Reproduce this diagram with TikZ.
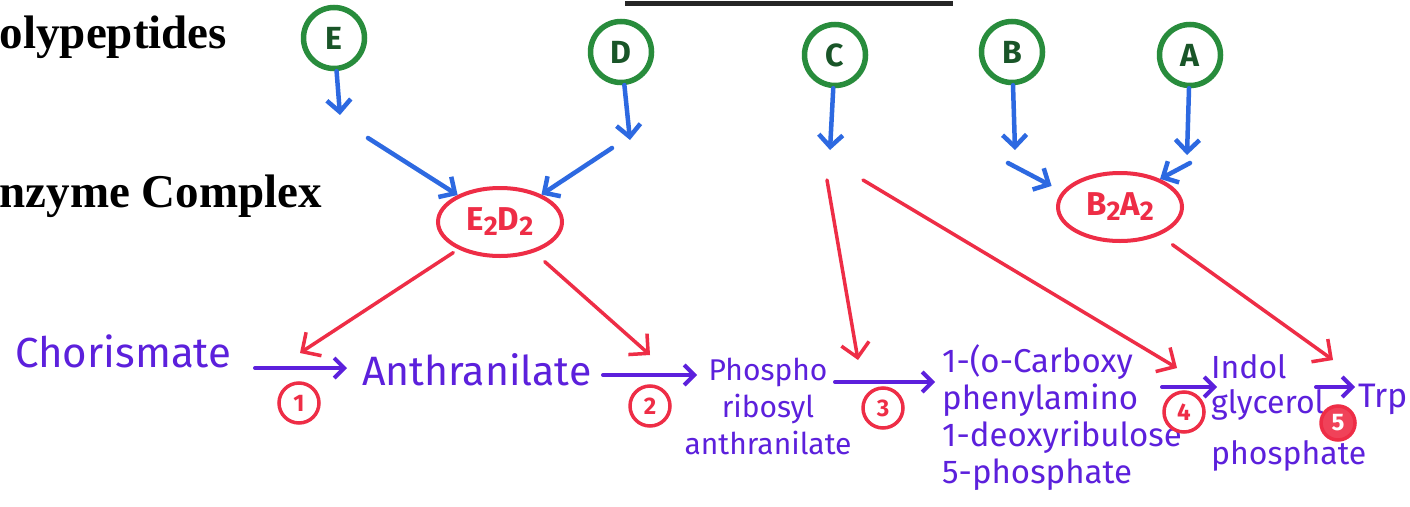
\documentclass[tikz,border=0pt]{standalone}
\usepackage{fontspec}
\setmainfont{Liberation Serif}
\newfontfamily\handfont{Fira Sans}
\usetikzlibrary{arrows.meta,shapes.geometric}
\definecolor{pengreen}{RGB}{40,140,60}
\definecolor{inkgreen}{RGB}{25,85,40}
\definecolor{penblue}{RGB}{45,105,225}
\definecolor{penred}{RGB}{238,45,70}
\definecolor{penpurple}{RGB}{92,32,220}
\newcommand{\lowtwo}{\raisebox{-5pt}{\fontsize{27}{27}\selectfont 2}}

\begin{document}
\begin{tikzpicture}[x=1pt,y=-1pt,
  heading/.style={anchor=base west,inner sep=0pt,font=\bfseries\fontsize{47}{56}\selectfont},
  subunit/.style={circle,draw=pengreen,line width=5.5pt,minimum size=61pt,inner sep=0pt,
    text=inkgreen,font=\handfont\bfseries\fontsize{32}{32}\selectfont},
  complexnode/.style={ellipse,draw=penred,line width=4pt,minimum width=124pt,minimum height=68pt,
    inner sep=0pt,text=penred,font=\handfont\bfseries\fontsize{33}{33}\selectfont},
  compound/.style={inner sep=0pt,text=penpurple,font=\handfont\fontsize{#1}{#1}\selectfont},
  compound/.default=40,
  stepno/.style={circle,draw=penred,line width=3.5pt,minimum size=40pt,inner sep=0pt,
    text=penred,font=\handfont\bfseries\fontsize{24}{24}\selectfont},
  feed/.style={draw=penblue,line width=4.5pt,line cap=round,
    -{Straight Barb[length=12pt,width=24pt]}},
  catal/.style={draw=penred,line width=3.5pt,line cap=round,
    -{Straight Barb[length=14pt,width=28pt]}},
  react/.style={draw=penpurple,line width=4pt,line cap=round,
    -{Straight Barb[length=10pt,width=20pt]}}
]
\useasboundingbox (0,0) rectangle (1410,506);
\clip (0,0) rectangle (1410,506);
\fill[white] (0,0) rectangle (1410,506);

% underline of the page title
\draw[line width=5pt,black!85] (625,3) -- (953,3);

% side headings
\node[heading] (hpoly) at (-29,48) {Polypeptides};
\node[heading] (hcomplex) at (-32,207) {Enzyme Complex};

% the five polypeptides
\node[subunit] (E) at (334,38) {E};
\node[subunit] (D) at (621,52) {D};
\node[subunit] (C) at (835,55) {C};
\node[subunit] (B) at (1012,52) {B};
\node[subunit] (A) at (1190,55) {A};

% the two complexes
\node[complexnode] (ED) at (500,222) {E\lowtwo D\lowtwo};
\node[complexnode] (BA) at (1120,207) {B\lowtwo A\lowtwo};

% assembly arrows
\coordinate (Ea) at (340,115);  \coordinate (Eb) at (368,138);
\coordinate (Da) at (630,140);  \coordinate (Db) at (612,148);
\coordinate (Ca) at (830,150);
\coordinate (Ba) at (1015,150); \coordinate (Bb) at (1008,163);
\coordinate (Aa) at (1187,155); \coordinate (Ab) at (1190,163);
\draw[feed] (E) -- (Ea);
\draw[feed] (Eb) -- (ED);
\draw[feed] (D) -- (Da);
\draw[feed] (Db) -- (ED);
\draw[feed] (C) -- (Ca);
\draw[feed] (B) -- (Ba);
\draw[feed, shorten >=12pt] (Bb) -- (BA.165);
\draw[feed] (A) -- (Aa);
\draw[feed] (Ab) -- (BA.35);

% pathway compounds
\node[compound=42,anchor=base west] (chor) at (15,367) {Chorismate};
\node[compound=41,anchor=base west] (anth) at (362,385) {Anthranilate};
\node[compound=30,anchor=north,align=center,font=\handfont\fontsize{30}{37}\selectfont] (pra) at (768,358) {Phospho\\ribosyl\\anthranilate};
\node[compound=33,anchor=north west,align=left,font=\handfont\fontsize{33}{37}\selectfont] (cdrp) at (942,344) {1-(o-Carboxy\\phenylamino\\1-deoxyribulose\\5-phosphate};
\node[compound=32,anchor=north west,align=left,font=\handfont\fontsize{32}{35}\selectfont] (igp) at (1211,354) {Indol\\glycerol\\[16pt]phosphate};
\node[compound=34,anchor=base west] (trp) at (1358,407) {Trp};

% reaction arrows
\coordinate (r1a) at (255,368);  \coordinate (r1b) at (347,368);
\coordinate (r2a) at (603,375);  \coordinate (r2b) at (697,375);
\coordinate (r3a) at (835,382);  \coordinate (r3b) at (935,382);
\coordinate (r4a) at (1162,387); \coordinate (r4b) at (1217,387);
\coordinate (r5a) at (1316,387); \coordinate (r5b) at (1355,387);
\draw[react] (r1a) -- (r1b);
\draw[react] (r2a) -- (r2b);
\draw[react] (r3a) -- (r3b);
\draw[react] (r4a) -- (r4b);
\draw[react] (r5a) -- (r5b);

% step numbers
\node[stepno] (n1) at (299,403) {1};
\node[stepno] (n2) at (650,406) {2};
\node[stepno] (n3) at (883,408) {3};
\node[stepno] (n4) at (1184,412) {4};
\node[stepno,fill=penred!90,text=white,minimum size=34pt] (n5) at (1338,423) {5};

% enzymes acting on each step
\coordinate (k1) at (300,353);
\coordinate (k2) at (650,355);
\coordinate (k3) at (858,360);
\coordinate (k4) at (1177,368);
\coordinate (k5) at (1333,360);
\coordinate (Cc) at (827,180);
\coordinate (Cd) at (863,180);
\draw[catal, shorten <=6pt] (ED) -- (k1);
\draw[catal, shorten <=14pt] (ED) -- (k2);
\draw[catal] (Cc) -- (k3);
\draw[catal] (Cd) -- (k4);
\draw[catal, shorten <=16pt] (BA) -- (k5);
\end{tikzpicture}
\end{document}
